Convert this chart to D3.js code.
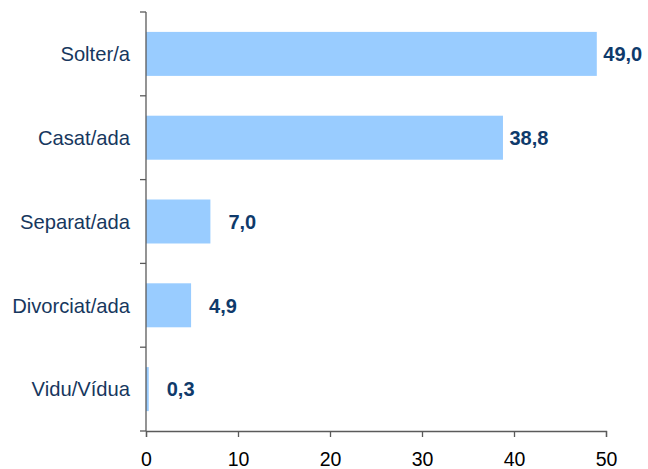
<!DOCTYPE html>
<html>
<head>
<meta charset="utf-8">
<script src="https://cdn.jsdelivr.net/npm/d3@7"></script>
<style>
  html, body { margin: 0; padding: 0; background: #fff; }
  svg { display: block; }
</style>
</head>
<body>
<div id="chart"></div>
<script>
const categories = ["Solter/a", "Casat/ada", "Separat/ada", "Divorciat/ada", "Vidu/Vídua"];
const values = [49.0, 38.8, 7.0, 4.9, 0.3];
const xTicks = [0, 10, 20, 30, 40, 50];

const W = 648, H = 469;
const margin = { left: 146, right: 42, top: 12, bottom: 38 };

const svg = d3.select("#chart").append("svg")
  .attr("width", W).attr("height", H);

const x = d3.scaleLinear().domain([0, 50]).range([margin.left, W - margin.right]);
const p = 0.475;
const y = d3.scaleBand().domain(categories)
  .range([margin.top, H - margin.bottom])
  .paddingInner(p).paddingOuter(p / 2);

const fmt = v => v.toFixed(1).replace(".", ",");

// bars
svg.append("g").selectAll("rect").data(values).join("rect")
  .attr("x", x(0))
  .attr("y", (d, i) => y(categories[i]))
  .attr("width", d => x(d) - x(0))
  .attr("height", y.bandwidth())
  .attr("fill", "#99ccff");

// value labels
svg.append("g").selectAll("text").data(values).join("text")
  .attr("x", d => x(d) + (d < 10 ? 18 : 6.5))
  .attr("y", (d, i) => y(categories[i]) + y.bandwidth() / 2)
  .attr("dy", "0.36em")
  .attr("font-family", "'Liberation Sans', Arial, sans-serif")
  .attr("font-weight", "bold")
  .attr("font-size", "20px")
  .attr("fill", "#0f3a6b")
  .text(d => fmt(d));

const axisColor = "#5a5a5a";

// x axis
const xAxis = svg.append("g")
  .attr("transform", `translate(0,${H - margin.bottom})`)
  .call(d3.axisBottom(x).tickValues(xTicks).tickSize(6).tickPadding(15).tickFormat(d => d));
xAxis.select(".domain").attr("stroke", axisColor).attr("stroke-width", 1.3);
xAxis.selectAll(".tick line").attr("stroke", axisColor).attr("stroke-width", 1.3);
xAxis.selectAll("text")
  .attr("font-family", "'Liberation Sans', Arial, sans-serif")
  .attr("font-size", "19.5px")
  .attr("fill", "#000");

// y axis: line + boundary ticks
const step = y.step();
const boundaries = d3.range(categories.length + 1).map(i => margin.top + i * step);
const yAxisG = svg.append("g");
yAxisG.append("line")
  .attr("x1", x(0)).attr("x2", x(0))
  .attr("y1", margin.top).attr("y2", H - margin.bottom)
  .attr("stroke", axisColor).attr("stroke-width", 1.3);
yAxisG.selectAll("line.tk").data(boundaries).join("line")
  .attr("class", "tk")
  .attr("x1", x(0) - 6).attr("x2", x(0))
  .attr("y1", d => d).attr("y2", d => d)
  .attr("stroke", axisColor).attr("stroke-width", 1.3);

// category labels
yAxisG.selectAll("text").data(categories).join("text")
  .attr("x", x(0) - 16)
  .attr("y", d => y(d) + y.bandwidth() / 2)
  .attr("dy", "0.36em")
  .attr("text-anchor", "end")
  .attr("font-family", "'Liberation Sans', Arial, sans-serif")
  .attr("font-size", "20.2px")
  .attr("fill", "#17375e")
  .text(d => d);
</script>
</body>
</html>
